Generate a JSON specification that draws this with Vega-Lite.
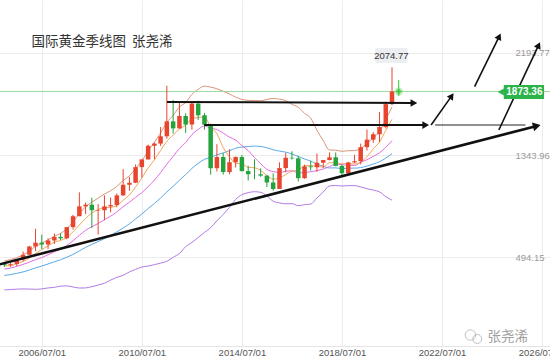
{
"$schema": "https://vega.github.io/schema/vega-lite/v6.json",
"width": 550, "height": 346,
"autosize": {"type": "none"},
"padding": {"left": 0, "top": 0, "right": 0, "bottom": 10},
"background": "white",
"config": {"view": {"stroke": null}, "axis": {"labelFont": "Liberation Sans"}},
"datasets": {
"candles": [
{"d":"2005-01-01","o":437.5,"h":447.3,"l":410.6,"c":428.7},
{"d":"2005-04-01","o":428.7,"h":443.5,"l":413.0,"c":435.2},
{"d":"2005-07-01","o":435.2,"h":476.6,"l":418.0,"c":473.3},
{"d":"2005-10-01","o":473.3,"h":541.0,"l":456.8,"c":513.0},
{"d":"2006-01-01","o":513,"h":587,"l":512,"c":582},
{"d":"2006-04-01","o":582,"h":730,"l":543,"c":613.5},
{"d":"2006-07-01","o":613.5,"h":680,"l":560,"c":598.8},
{"d":"2006-10-01","o":598.8,"h":650,"l":560,"c":632},
{"d":"2007-01-01","o":632,"h":691,"l":603,"c":662},
{"d":"2007-04-01","o":662,"h":692,"l":636,"c":650},
{"d":"2007-07-01","o":650,"h":745,"l":642,"c":743},
{"d":"2007-10-01","o":743,"h":846,"l":723,"c":834},
{"d":"2008-01-01","o":834,"h":1033,"l":834,"c":916},
{"d":"2008-04-01","o":916,"h":948,"l":852,"c":930},
{"d":"2008-07-01","o":930,"h":988,"l":735,"c":884},
{"d":"2008-10-01","o":880,"h":936,"l":681,"c":884},
{"d":"2009-01-01","o":884,"h":1007,"l":800,"c":916},
{"d":"2009-04-01","o":916,"h":990,"l":866,"c":927},
{"d":"2009-07-01","o":927,"h":1024,"l":909,"c":1008},
{"d":"2009-10-01","o":1008,"h":1227,"l":1001,"c":1096},
{"d":"2010-01-01","o":1096,"h":1162,"l":1045,"c":1113},
{"d":"2010-04-01","o":1113,"h":1265,"l":1110,"c":1243},
{"d":"2010-07-01","o":1243,"h":1308,"l":1157,"c":1307},
{"d":"2010-10-01","o":1307,"h":1431,"l":1307,"c":1421},
{"d":"2011-01-01","o":1421,"h":1448,"l":1308,"c":1439},
{"d":"2011-04-01","o":1439,"h":1577,"l":1420,"c":1500},
{"d":"2011-07-01","o":1500,"h":1921,"l":1480,"c":1624},
{"d":"2011-10-01","o":1624,"h":1803,"l":1522,"c":1566},
{"d":"2012-01-01","o":1566,"h":1792,"l":1563,"c":1669},
{"d":"2012-04-01","o":1669,"h":1692,"l":1527,"c":1598},
{"d":"2012-07-01","o":1598,"h":1790,"l":1555,"c":1772},
{"d":"2012-10-01","o":1772,"h":1796,"l":1636,"c":1675},
{"d":"2013-01-01","o":1675,"h":1694,"l":1555,"c":1597},
{"d":"2013-04-01","o":1597,"h":1605,"l":1180,"c":1234},
{"d":"2013-07-01","o":1234,"h":1434,"l":1207,"c":1327},
{"d":"2013-10-01","o":1327,"h":1361,"l":1180,"c":1202},
{"d":"2014-01-01","o":1202,"h":1392,"l":1182,"c":1284},
{"d":"2014-04-01","o":1284,"h":1332,"l":1240,"c":1327},
{"d":"2014-07-01","o":1327,"h":1345,"l":1206,"c":1210},
{"d":"2014-10-01","o":1210,"h":1255,"l":1131,"c":1184},
{"d":"2015-01-01","o":1184,"h":1308,"l":1142,"c":1183},
{"d":"2015-04-01","o":1183,"h":1232,"l":1162,"c":1172},
{"d":"2015-07-01","o":1172,"h":1175,"l":1077,"c":1115},
{"d":"2015-10-01","o":1115,"h":1191,"l":1046,"c":1061},
{"d":"2016-01-01","o":1061,"h":1283,"l":1061,"c":1235},
{"d":"2016-04-01","o":1235,"h":1362,"l":1200,"c":1321},
{"d":"2016-07-01","o":1321,"h":1375,"l":1306,"c":1316},
{"d":"2016-10-01","o":1316,"h":1337,"l":1123,"c":1151},
{"d":"2017-01-01","o":1151,"h":1264,"l":1146,"c":1249},
{"d":"2017-04-01","o":1249,"h":1296,"l":1214,"c":1242},
{"d":"2017-07-01","o":1242,"h":1357,"l":1204,"c":1280},
{"d":"2017-10-01","o":1280,"h":1299,"l":1236,"c":1302},
{"d":"2018-01-01","o":1302,"h":1366,"l":1300,"c":1325},
{"d":"2018-04-01","o":1325,"h":1365,"l":1250,"c":1253},
{"d":"2018-07-01","o":1253,"h":1265,"l":1160,"c":1192},
{"d":"2018-10-01","o":1192,"h":1287,"l":1180,"c":1282},
{"d":"2019-01-01","o":1282,"h":1346,"l":1276,"c":1292},
{"d":"2019-04-01","o":1292,"h":1439,"l":1266,"c":1409},
{"d":"2019-07-01","o":1409,"h":1557,"l":1381,"c":1472},
{"d":"2019-10-01","o":1472,"h":1535,"l":1445,"c":1517},
{"d":"2020-01-01","o":1517,"h":1703,"l":1451,"c":1577},
{"d":"2020-04-01","o":1577,"h":1788,"l":1566,"c":1768},
{"d":"2020-07-01","o":1768,"h":2074.77,"l":1758,"c":1873.36}
],
"ma": [
{"d":"2005-01-01","m5":420.6,"m10":393.4,"m20":340.6,"up":460.9,"lo":220.2},
{"d":"2005-04-01","m5":422.2,"m10":402.2,"m20":347.9,"up":473.1,"lo":222.7},
{"d":"2005-07-01","m5":438,"m10":416.1,"m20":357.9,"up":489.3,"lo":226.5},
{"d":"2005-10-01","m5":457.6,"m10":432.8,"m20":370,"up":511.5,"lo":228.4},
{"d":"2006-01-01","m5":486.4,"m10":452.2,"m20":386.2,"up":545.2,"lo":227.2},
{"d":"2006-04-01","m5":523.4,"m10":472,"m20":403.4,"up":581.8,"lo":225},
{"d":"2006-07-01","m5":556.2,"m10":489.2,"m20":418.7,"up":608.7,"lo":228.7},
{"d":"2006-10-01","m5":588,"m10":513,"m20":436.4,"up":636.2,"lo":236.6},
{"d":"2007-01-01","m5":617.8,"m10":537.7,"m20":454.3,"up":667.5,"lo":241.1},
{"d":"2007-04-01","m5":631.4,"m10":558.9,"m20":470.9,"up":690.7,"lo":251.1},
{"d":"2007-07-01","m5":657.2,"m10":590.3,"m20":491.9,"up":730.3,"lo":253.5},
{"d":"2007-10-01","m5":704.2,"m10":630.2,"m20":516.2,"up":788,"lo":244.4},
{"d":"2008-01-01","m5":761,"m10":674.5,"m20":545.3,"up":854.9,"lo":235.7},
{"d":"2008-04-01","m5":814.6,"m10":716.2,"m20":574.5,"up":912.3,"lo":236.7},
{"d":"2008-07-01","m5":861.4,"m10":746.4,"m20":599.3,"up":951.3,"lo":247.3},
{"d":"2008-10-01","m5":889.6,"m10":773.4,"m20":622.7,"up":984.9,"lo":260.5},
{"d":"2009-01-01","m5":906,"m10":805.1,"m20":647.2,"up":1018.8,"lo":275.6},
{"d":"2009-04-01","m5":908.2,"m10":834.6,"m20":673.8,"up":1045.8,"lo":301.8},
{"d":"2009-07-01","m5":923.8,"m10":869.2,"m20":703.5,"up":1082.3,"lo":324.7},
{"d":"2009-10-01","m5":966.2,"m10":913.8,"m20":736.4,"up":1131.2,"lo":341.6},
{"d":"2010-01-01","m5":1012,"m10":950.8,"m20":770.6,"up":1171.4,"lo":369.8},
{"d":"2010-04-01","m5":1077.4,"m10":991.7,"m20":811,"up":1230.8,"lo":391.2},
{"d":"2010-07-01","m5":1153.4,"m10":1030.8,"m20":852.7,"up":1295.1,"lo":410.3},
{"d":"2010-10-01","m5":1236,"m10":1079.9,"m20":898,"up":1377.2,"lo":418.8},
{"d":"2011-01-01","m5":1304.6,"m10":1135.4,"m20":940.9,"up":1451.3,"lo":430.5},
{"d":"2011-04-01","m5":1382,"m10":1197,"m20":985.2,"up":1527.2,"lo":443.2},
{"d":"2011-07-01","m5":1458.2,"m10":1267.8,"m20":1036.5,"up":1614.9,"lo":458.1},
{"d":"2011-10-01","m5":1510,"m10":1331.7,"m20":1083.2,"up":1674.2,"lo":492.2},
{"d":"2012-01-01","m5":1559.6,"m10":1397.8,"m20":1133.5,"up":1744.1,"lo":522.9},
{"d":"2012-04-01","m5":1591.4,"m10":1448,"m20":1180.9,"up":1781.1,"lo":580.7},
{"d":"2012-07-01","m5":1645.8,"m10":1513.9,"m20":1232.4,"up":1849.4,"lo":615.4},
{"d":"2012-10-01","m5":1656,"m10":1557.1,"m20":1274.4,"up":1892,"lo":656.8},
{"d":"2013-01-01","m5":1662.2,"m10":1586.1,"m20":1308.5,"up":1917.9,"lo":699.1},
{"d":"2013-04-01","m5":1575.2,"m10":1567.4,"m20":1323.7,"up":1909.3,"lo":738.1},
{"d":"2013-07-01","m5":1521,"m10":1556.2,"m20":1345.8,"up":1896.2,"lo":795.4},
{"d":"2013-10-01","m5":1407,"m10":1526.4,"m20":1361.7,"up":1874.9,"lo":848.5},
{"d":"2014-01-01","m5":1328.8,"m10":1492.4,"m20":1380.1,"up":1852.7,"lo":907.5},
{"d":"2014-04-01","m5":1274.8,"m10":1468.5,"m20":1400.1,"up":1825.9,"lo":974.3},
{"d":"2014-07-01","m5":1270,"m10":1422.6,"m20":1410.2,"up":1807,"lo":1013.4},
{"d":"2014-10-01","m5":1241.4,"m10":1381.2,"m20":1414.6,"up":1799,"lo":1030.2},
{"d":"2015-01-01","m5":1237.6,"m10":1322.3,"m20":1418.1,"up":1797.9,"lo":1038.3},
{"d":"2015-04-01","m5":1215.2,"m10":1272,"m20":1414.6,"up":1796.2,"lo":1033},
{"d":"2015-07-01","m5":1172.8,"m10":1223.8,"m20":1405,"up":1806.2,"lo":1003.8},
{"d":"2015-10-01","m5":1143,"m10":1206.5,"m20":1387,"up":1815.2,"lo":958.8},
{"d":"2016-01-01","m5":1153.2,"m10":1197.3,"m20":1376.8,"up":1809.2,"lo":944.4},
{"d":"2016-04-01","m5":1180.8,"m10":1209.2,"m20":1367.8,"up":1797.6,"lo":938},
{"d":"2016-07-01","m5":1209.6,"m10":1212.4,"m20":1352.4,"up":1766.2,"lo":938.6},
{"d":"2016-10-01","m5":1216.8,"m10":1194.8,"m20":1331.7,"up":1741.5,"lo":921.9},
{"d":"2017-01-01","m5":1254.4,"m10":1198.7,"m20":1310.7,"up":1691.3,"lo":930.1},
{"d":"2017-04-01","m5":1255.8,"m10":1204.5,"m20":1292.9,"up":1650.7,"lo":935.1},
{"d":"2017-07-01","m5":1247.6,"m10":1214.2,"m20":1268.3,"up":1550.5,"lo":986.1},
{"d":"2017-10-01","m5":1244.8,"m10":1227.2,"m20":1249.6,"up":1463.8,"lo":1035.4},
{"d":"2018-01-01","m5":1279.6,"m10":1248.2,"m20":1236,"up":1385,"lo":1087},
{"d":"2018-04-01","m5":1280.4,"m10":1267.4,"m20":1237,"up":1384.4,"lo":1089.6},
{"d":"2018-07-01","m5":1270.4,"m10":1263.1,"m20":1230.2,"up":1374.6,"lo":1085.8},
{"d":"2018-10-01","m5":1270.8,"m10":1259.2,"m20":1234.2,"up":1379.6,"lo":1088.8},
{"d":"2019-01-01","m5":1268.8,"m10":1256.8,"m20":1234.6,"up":1380.6,"lo":1088.6},
{"d":"2019-04-01","m5":1285.6,"m10":1282.6,"m20":1238.7,"up":1398.7,"lo":1078.7},
{"d":"2019-07-01","m5":1329.4,"m10":1304.9,"m20":1251.8,"up":1440.6,"lo":1063},
{"d":"2019-10-01","m5":1394.4,"m10":1332.4,"m20":1268.5,"up":1485.7,"lo":1051.3},
{"d":"2020-01-01","m5":1453.4,"m10":1362.1,"m20":1288.2,"up":1539.6,"lo":1036.8},
{"d":"2020-04-01","m5":1548.6,"m10":1408.7,"m20":1318,"up":1639,"lo":997},
{"d":"2020-07-01","m5":1641.4,"m10":1463.5,"m20":1355.9,"up":1743.9,"lo":967.9}
],
"arrows": [
{"kind":"trend","d":"2004-08-20","p":423.4,"d2":"2026-04-15","p2":1586.4},
{"kind":"level","d":"2011-07-04","p":1786,"d2":"2021-05-17","p2":1777.2},
{"kind":"level","d":"2012-12-29","p":1594,"d2":"2021-11-05","p2":1593.9},
{"kind":"ext","d":"2022-03-22","p":1593.9,"d2":"2025-10-31","p2":1593.9},
{"kind":"up","d":"2022-01-23","p":1593.9,"d2":"2022-11-20","p2":1836.4},
{"kind":"up","d":"2023-10-20","p":1913,"d2":"2024-10-14","p2":2332.1},
{"kind":"up","d":"2024-10-08","p":1552.3,"d2":"2026-05-12","p2":2258.7}
]
},
"layer": [
{"data": {"name": "ma"}, "mark": {"type": "line", "color": "#dd9278", "strokeWidth": 1, "interpolate": "monotone"},
 "encoding": {
  "x": {"field": "d", "type": "temporal",
   "scale": {"domain": [{"year":2005,"month":1,"date":10},{"year":2026,"month":8,"date":13}], "nice": false},
   "axis": {"values": [{"year":2006,"month":7,"date":1},{"year":2010,"month":7,"date":1},{"year":2014,"month":7,"date":1},{"year":2018,"month":7,"date":1},{"year":2022,"month":7,"date":1},{"year":2026,"month":7,"date":1}],
    "format": "%Y/%m/%d", "title": null, "grid": true, "gridColor": "#ececec", "tickSize": 0, "domainColor": "#e4e4e4",
    "labelColor": "#555", "labelFontSize": 9.5, "labelPadding": 1, "labelFlush": false, "labelOverlap": false, "labelBound": false}},
  "y": {"field": "up", "type": "quantitative",
   "scale": {"domain": [-247.2, 2635.3], "nice": false, "zero": false},
   "axis": {"orient": "right", "offset": -35, "values": [494.15, 1343.96, 2193.77], "format": ".2f", "title": null,
    "grid": true, "gridColor": "#ececec", "ticks": false, "domain": false, "labelColor": "#9a9a9a", "labelFontSize": 9.5, "labelPadding": 0}}
 }},
{"data": {"name": "ma"}, "mark": {"type": "line", "color": "#b27ae6", "strokeWidth": 1, "interpolate": "monotone"},
 "encoding": {"x": {"field": "d", "type": "temporal"}, "y": {"field": "lo", "type": "quantitative"}}},
{"data": {"name": "ma"}, "mark": {"type": "line", "color": "#5aa9e6", "strokeWidth": 1, "interpolate": "monotone"},
 "encoding": {"x": {"field": "d", "type": "temporal"}, "y": {"field": "m20", "type": "quantitative"}}},
{"data": {"name": "ma"}, "mark": {"type": "line", "color": "#e46ce2", "strokeWidth": 1, "interpolate": "monotone"},
 "encoding": {"x": {"field": "d", "type": "temporal"}, "y": {"field": "m10", "type": "quantitative"}}},
{"data": {"name": "ma"}, "mark": {"type": "line", "color": "#f3a458", "strokeWidth": 1, "interpolate": "monotone"},
 "encoding": {"x": {"field": "d", "type": "temporal"}, "y": {"field": "m5", "type": "quantitative"}}},
{"data": {"values": [{"p": 1873.36}]}, "mark": {"type": "rule", "color": "#9fd89f", "strokeWidth": 1},
 "encoding": {"y": {"field": "p", "type": "quantitative"}}},
{"data": {"name": "candles"}, "mark": {"type": "rule", "strokeWidth": 1},
 "encoding": {"x": {"field": "d", "type": "temporal"}, "y": {"field": "l", "type": "quantitative"}, "y2": {"field": "h"},
  "color": {"condition": {"test": "datum.c >= datum.o", "value": "#e8452f"}, "value": "#22a33c"}}},
{"data": {"name": "candles"}, "mark": {"type": "bar", "size": 4.5},
 "encoding": {"x": {"field": "d", "type": "temporal"}, "y": {"field": "o", "type": "quantitative"}, "y2": {"field": "c"},
  "color": {"condition": {"test": "datum.c >= datum.o", "value": "#e8452f"}, "value": "#22a33c"}}},
{"data": {"values": [{"d": "2020-10-07", "p": 1968.8, "p2": 1835.5}]}, "mark": {"type": "rule", "color": "#33c433", "strokeWidth": 1},
 "encoding": {"x": {"field": "d", "type": "temporal"}, "y": {"field": "p", "type": "quantitative"}, "y2": {"field": "p2"}}},
{"data": {"values": [{"d": "2020-10-07", "p": 1873.36}]}, "mark": {"type": "point", "shape": "circle", "filled": true, "color": "#7be07b", "opacity": 0.45, "size": 70},
 "encoding": {"x": {"field": "d", "type": "temporal"}, "y": {"field": "p", "type": "quantitative"}}},
{"data": {"values": [{"d": "2020-10-07", "p": 1873.36}]}, "mark": {"type": "point", "shape": "cross", "filled": true, "color": "#2fbf2f", "size": 30},
 "encoding": {"x": {"field": "d", "type": "temporal"}, "y": {"field": "p", "type": "quantitative"}}},
{"data": {"name": "arrows"}, "transform": [{"filter": "datum.kind == 'trend'"}], "mark": {"type": "rule", "color": "#111", "strokeWidth": 2.6},
 "encoding": {"x": {"field": "d", "type": "temporal"}, "y": {"field": "p", "type": "quantitative"}, "x2": {"field": "d2"}, "y2": {"field": "p2"}}},
{"data": {"name": "arrows"}, "transform": [{"filter": "datum.kind == 'level'"}], "mark": {"type": "rule", "color": "#111", "strokeWidth": 2},
 "encoding": {"x": {"field": "d", "type": "temporal"}, "y": {"field": "p", "type": "quantitative"}, "x2": {"field": "d2"}, "y2": {"field": "p2"}}},
{"data": {"name": "arrows"}, "transform": [{"filter": "datum.kind == 'ext'"}], "mark": {"type": "rule", "color": "#222", "strokeWidth": 1},
 "encoding": {"x": {"field": "d", "type": "temporal"}, "y": {"field": "p", "type": "quantitative"}, "x2": {"field": "d2"}, "y2": {"field": "p2"}}},
{"data": {"name": "arrows"}, "transform": [{"filter": "datum.kind == 'up'"}], "mark": {"type": "rule", "color": "#111", "strokeWidth": 1.6},
 "encoding": {"x": {"field": "d", "type": "temporal"}, "y": {"field": "p", "type": "quantitative"}, "x2": {"field": "d2"}, "y2": {"field": "p2"}}},
{"data": {"values": [{"d": "2021-05-17", "p": 1777.2}, {"d": "2021-11-05", "p": 1593.9}]}, "mark": {"type": "point", "shape": "triangle-up", "angle": 90, "filled": true, "color": "#111", "opacity": 1, "size": 60},
 "encoding": {"x": {"field": "d", "type": "temporal"}, "y": {"field": "p", "type": "quantitative"}}},
{"data": {"values": [{"d": "2026-04-15", "p": 1586.4}]}, "mark": {"type": "point", "shape": "triangle-up", "angle": 76, "filled": true, "color": "#111", "opacity": 1, "size": 80},
 "encoding": {"x": {"field": "d", "type": "temporal"}, "y": {"field": "p", "type": "quantitative"}}},
{"data": {"values": [{"d": "2022-11-20", "p": 1836.4}]}, "mark": {"type": "point", "shape": "triangle-up", "angle": 35, "filled": true, "color": "#111", "opacity": 1, "size": 55},
 "encoding": {"x": {"field": "d", "type": "temporal"}, "y": {"field": "p", "type": "quantitative"}}},
{"data": {"values": [{"d": "2024-10-14", "p": 2332.1}, {"d": "2026-05-12", "p": 2258.7}]}, "mark": {"type": "point", "shape": "triangle-up", "angle": 26, "filled": true, "color": "#111", "opacity": 1, "size": 55},
 "encoding": {"x": {"field": "d", "type": "temporal"}, "y": {"field": "p", "type": "quantitative"}}},
{"data": {"values": [{"d": "2019-10-29", "d2": "2021-02-13", "p": 2110.4, "p2": 2235.4}]}, "mark": {"type": "rect", "color": "#eceef2", "cornerRadius": 2},
 "encoding": {"x": {"field": "d", "type": "temporal"}, "x2": {"field": "d2"}, "y": {"field": "p", "type": "quantitative"}, "y2": {"field": "p2"}}},
{"data": {"values": [{"d": "2020-06-22", "p": 2172.9, "t": "2074.77"}]}, "mark": {"type": "text", "color": "#333", "fontSize": 9.5, "font": "Liberation Sans", "align": "center", "baseline": "middle"},
 "encoding": {"x": {"field": "d", "type": "temporal"}, "y": {"field": "p", "type": "quantitative"}, "text": {"field": "t"}}},
{"data": {"values": [{"d": "2024-12-19", "d2": "2026-07-30", "p": 1810.6, "p2": 1927.2}]}, "mark": {"type": "rect", "color": "#2cb34a"},
 "encoding": {"x": {"field": "d", "type": "temporal"}, "x2": {"field": "d2"}, "y": {"field": "p", "type": "quantitative"}, "y2": {"field": "p2"}}},
{"data": {"values": [{"d": "2024-11-06", "p": 1868.8}]}, "mark": {"type": "point", "shape": "triangle-left", "filled": true, "color": "#2cb34a", "opacity": 1, "size": 50},
 "encoding": {"x": {"field": "d", "type": "temporal"}, "y": {"field": "p", "type": "quantitative"}}},
{"data": {"values": [{"d": "2025-10-16", "p": 1868.8, "t": "1873.36"}]}, "mark": {"type": "text", "color": "white", "fontSize": 10, "fontWeight": "bold", "font": "Liberation Sans", "align": "center", "baseline": "middle"},
 "encoding": {"x": {"field": "d", "type": "temporal"}, "y": {"field": "p", "type": "quantitative"}, "text": {"field": "t"}}},
{"data": {"values": [{"d": "2006-02-01", "p": 2285.4, "t": "国际黄金季线图\u00a0\u00a0张尧浠"}]}, "mark": {"type": "text", "color": "#333", "fontSize": 13.5, "font": "Noto Sans CJK SC", "align": "left", "baseline": "middle"},
 "encoding": {"x": {"field": "d", "type": "temporal"}, "y": {"field": "p", "type": "quantitative"}, "text": {"field": "t"}}},
{"data": {"values": [{"d": "2023-08-20", "p": -155.6}]}, "mark": {"type": "point", "shape": "circle", "filled": false, "color": "#aaa", "strokeWidth": 1, "size": 110},
 "encoding": {"x": {"field": "d", "type": "temporal"}, "y": {"field": "p", "type": "quantitative"}}},
{"data": {"values": [{"d": "2023-11-28", "p": -188.9}]}, "mark": {"type": "point", "shape": "circle", "filled": false, "color": "#aaa", "strokeWidth": 1, "size": 80},
 "encoding": {"x": {"field": "d", "type": "temporal"}, "y": {"field": "p", "type": "quantitative"}}},
{"data": {"values": [{"d": "2025-02-15", "p": -172.2, "t": "张尧浠"}]}, "mark": {"type": "text", "color": "#a0a0a0", "fontSize": 13.5, "font": "Noto Sans CJK SC", "align": "center", "baseline": "middle"},
 "encoding": {"x": {"field": "d", "type": "temporal"}, "y": {"field": "p", "type": "quantitative"}, "text": {"field": "t"}}}
]
}
